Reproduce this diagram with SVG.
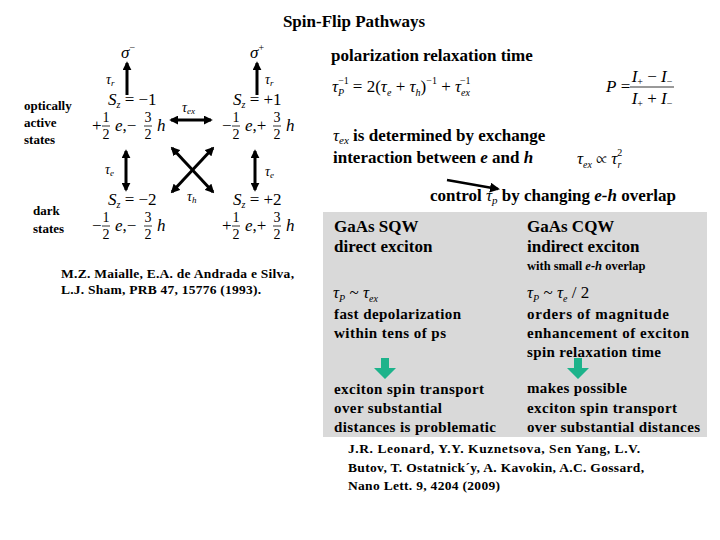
<svg xmlns="http://www.w3.org/2000/svg" width="720" height="540" viewBox="0 0 720 540" font-family="'Liberation Serif', Tinos, 'Times New Roman', Times, 'Nimbus Roman', FreeSerif, 'DejaVu Serif', serif">
<style>
text{font-family:"Liberation Serif",Tinos,"Times New Roman",Times,"Nimbus Roman",FreeSerif,"DejaVu Serif","Noto Serif",serif;fill:#000}
.b{font-weight:bold}
.t{font-size:17px;font-weight:bold}
.lab{font-size:13px;font-weight:bold}
.m{font-size:17px}
.f{font-size:14px}
.i{font-style:italic}
.s{font-size:10px}
.g{font-size:15px;font-weight:bold}
.gb{font-size:17px;font-weight:bold}
.ref{font-size:13.5px;font-weight:bold}
.ar{stroke:#000;stroke-width:3;fill:none}
.bar{stroke:#000;stroke-width:0.8}
.grn{fill:#1db38b}
</style>
<defs>
<marker id="ah" viewBox="0 0 10 10" refX="8" refY="5" markerWidth="9" markerHeight="9" markerUnits="userSpaceOnUse" orient="auto-start-reverse">
<path d="M0,0 L10,5 L0,10 z" fill="#000"/>
</marker>
<marker id="ah2" viewBox="0 0 10 10" refX="8" refY="5" markerWidth="10" markerHeight="10" markerUnits="userSpaceOnUse" orient="auto">
<path d="M0,0 L10,5 L0,10 z" fill="#000"/>
</marker>
</defs>

<text x="354" y="27" text-anchor="middle" class="t">Spin-Flip Pathways</text>

<g id="labels-left">
<text x="24" y="110" class="lab">optically</text>
<text x="24" y="127" class="lab">active</text>
<text x="24" y="144" class="lab">states</text>
<text x="33" y="215" class="lab">dark</text>
<text x="33" y="233" class="lab">states</text>
</g>

<g id="sigma-minus">
<text x="121" y="58" class="m i">σ<tspan class="s" dy="-7" font-style="normal">−</tspan></text>
</g>
<g id="sigma-plus">
<text x="250" y="58" class="m i">σ<tspan class="s" dy="-7" font-style="normal">+</tspan></text>
</g>

<g id="state-m1">
<text x="108" y="105" class="m"><tspan class="i">S</tspan><tspan class="s i" dy="3">z</tspan><tspan dy="-3"> = −1</tspan></text>
<text x="92" y="131" class="m">+</text>
<text x="106" y="122" class="f" text-anchor="middle">1</text>
<line x1="102" y1="126" x2="110" y2="126" class="bar"/>
<text x="106" y="139" class="f" text-anchor="middle">2</text>
<text x="115" y="131" class="m"><tspan class="i">e</tspan>,−</text>
<text x="148" y="122" class="f" text-anchor="middle">3</text>
<line x1="144" y1="126" x2="152" y2="126" class="bar"/>
<text x="148" y="139" class="f" text-anchor="middle">2</text>
<text x="157" y="131" class="m i">h</text>
</g>

<g id="state-p1">
<text x="233" y="105" class="m"><tspan class="i">S</tspan><tspan class="s i" dy="3">z</tspan><tspan dy="-3"> = +1</tspan></text>
<text x="222" y="131" class="m">−</text>
<text x="236" y="122" class="f" text-anchor="middle">1</text>
<line x1="232" y1="126" x2="240" y2="126" class="bar"/>
<text x="236" y="139" class="f" text-anchor="middle">2</text>
<text x="245" y="131" class="m"><tspan class="i">e</tspan>,+</text>
<text x="277" y="122" class="f" text-anchor="middle">3</text>
<line x1="273" y1="126" x2="281" y2="126" class="bar"/>
<text x="277" y="139" class="f" text-anchor="middle">2</text>
<text x="286" y="131" class="m i">h</text>
</g>

<g id="state-m2">
<text x="108" y="205" class="m"><tspan class="i">S</tspan><tspan class="s i" dy="3">z</tspan><tspan dy="-3"> = −2</tspan></text>
<text x="92" y="231" class="m">−</text>
<text x="106" y="222" class="f" text-anchor="middle">1</text>
<line x1="102" y1="226" x2="110" y2="226" class="bar"/>
<text x="106" y="239" class="f" text-anchor="middle">2</text>
<text x="115" y="231" class="m"><tspan class="i">e</tspan>,−</text>
<text x="148" y="222" class="f" text-anchor="middle">3</text>
<line x1="144" y1="226" x2="152" y2="226" class="bar"/>
<text x="148" y="239" class="f" text-anchor="middle">2</text>
<text x="157" y="231" class="m i">h</text>
</g>

<g id="state-p2">
<text x="233" y="205" class="m"><tspan class="i">S</tspan><tspan class="s i" dy="3">z</tspan><tspan dy="-3"> = +2</tspan></text>
<text x="222" y="231" class="m">+</text>
<text x="236" y="222" class="f" text-anchor="middle">1</text>
<line x1="232" y1="226" x2="240" y2="226" class="bar"/>
<text x="236" y="239" class="f" text-anchor="middle">2</text>
<text x="245" y="231" class="m"><tspan class="i">e</tspan>,+</text>
<text x="277" y="222" class="f" text-anchor="middle">3</text>
<line x1="273" y1="226" x2="281" y2="226" class="bar"/>
<text x="277" y="239" class="f" text-anchor="middle">2</text>
<text x="286" y="231" class="m i">h</text>
</g>

<g id="connectors">
<line x1="127" y1="95" x2="127" y2="63" class="ar" marker-end="url(#ah)"/>
<line x1="257" y1="95" x2="257" y2="63" class="ar" marker-end="url(#ah)"/>
<line x1="171" y1="120" x2="211" y2="120" class="ar" marker-start="url(#ah)" marker-end="url(#ah)"/>
<line x1="126" y1="151" x2="126" y2="190" class="ar" marker-start="url(#ah)" marker-end="url(#ah)"/>
<line x1="255" y1="151" x2="255" y2="190" class="ar" marker-start="url(#ah)" marker-end="url(#ah)"/>
<line x1="172" y1="148" x2="213" y2="192" class="ar" marker-start="url(#ah)" marker-end="url(#ah)"/>
<line x1="213" y1="148" x2="172" y2="192" class="ar" marker-start="url(#ah)" marker-end="url(#ah)"/>
<line x1="447" y1="180" x2="498" y2="189" stroke="#000" stroke-width="2.5" marker-end="url(#ah2)"/>
</g>

<g id="conn-labels">
<text x="106" y="84" font-size="14" class="i">τ<tspan font-size="9" dy="2">r</tspan></text>
<text x="265" y="84" font-size="14" class="i">τ<tspan font-size="9" dy="2">r</tspan></text>
<text x="182" y="112" font-size="14" class="i">τ<tspan font-size="9" dy="2">ex</tspan></text>
<text x="105" y="174" font-size="14" class="i">τ<tspan font-size="9" dy="2">e</tspan></text>
<text x="265" y="176" font-size="14" class="i">τ<tspan font-size="9" dy="2">e</tspan></text>
<text x="187" y="201" font-size="14" class="i">τ<tspan font-size="9" dy="2">h</tspan></text>
</g>

<g id="relaxation">
<text x="331" y="61" class="gb">polarization relaxation time</text>
<text x="332" y="92" class="m"><tspan class="i">τ</tspan><tspan class="s i" dy="4">P</tspan><tspan class="s" dx="-6" dy="-12">−1</tspan><tspan dy="8" dx="4">= 2(</tspan><tspan class="i">τ</tspan><tspan class="s i" dy="4">e</tspan><tspan dy="-4"> + </tspan><tspan class="i">τ</tspan><tspan class="s i" dy="4">h</tspan><tspan dy="-4">)</tspan><tspan class="s" dy="-8">−1</tspan><tspan dy="8"> + </tspan><tspan class="i">τ</tspan><tspan class="s i" dy="4">ex</tspan><tspan class="s" dx="-10" dy="-12">−1</tspan></text>
<text x="606" y="92" class="m"><tspan class="i">P</tspan> =</text>
<text x="652" y="82" class="m" text-anchor="middle"><tspan class="i">I</tspan><tspan class="s" dy="3">+</tspan><tspan dy="-3"> − </tspan><tspan class="i">I</tspan><tspan class="s" dy="3">−</tspan></text>
<line x1="630" y1="87" x2="674" y2="87" class="bar"/>
<text x="652" y="104" class="m" text-anchor="middle"><tspan class="i">I</tspan><tspan class="s" dy="3">+</tspan><tspan dy="-3"> + </tspan><tspan class="i">I</tspan><tspan class="s" dy="3">−</tspan></text>
</g>

<g id="exchange">
<text x="333" y="141" class="gb"><tspan class="i" font-weight="normal">τ</tspan><tspan font-size="11" class="i" font-weight="normal" dy="3">ex</tspan><tspan dy="-3"> is determined by exchange</tspan></text>
<text x="333" y="163" class="gb">interaction between <tspan class="i">e</tspan> and <tspan class="i">h</tspan></text>
<text x="577" y="164" class="m"><tspan class="i">τ</tspan><tspan class="s i" dy="4">ex</tspan><tspan dy="-4"> ∝ </tspan><tspan class="i">τ</tspan><tspan class="s i" dy="4">r</tspan><tspan class="s" dx="-4" dy="-12">2</tspan></text>
<text x="430" y="201" class="gb">control <tspan class="i" font-weight="normal">τ</tspan><tspan font-size="11" class="i" font-weight="normal" dy="3">p</tspan><tspan dy="-3"> by changing </tspan><tspan class="i">e-h</tspan> overlap</text>
</g>

<g id="comparison">
<rect x="323" y="212" width="384" height="225" fill="#d9d9d9"/>
<text x="334" y="232" class="gb">GaAs SQW</text>
<text x="334" y="252" class="gb">direct exciton</text>
<text x="527" y="232" class="gb">GaAs CQW</text>
<text x="527" y="252" class="gb">indirect exciton</text>
<text x="527" y="270" font-size="12.5" class="b">with small <tspan class="i">e-h</tspan> overlap</text>
<text x="333" y="298" class="m"><tspan class="i">τ</tspan><tspan class="s i" dy="4">P</tspan><tspan dy="-4"> ~ </tspan><tspan class="i">τ</tspan><tspan class="s i" dy="4">ex</tspan></text>
<text x="527" y="298" class="m"><tspan class="i">τ</tspan><tspan class="s i" dy="4">P</tspan><tspan dy="-4"> ~ </tspan><tspan class="i">τ</tspan><tspan class="s i" dy="4">e</tspan><tspan dy="-4"> / 2</tspan></text>
<text x="334" y="319" class="g" textLength="127">fast depolarization</text>
<text x="334" y="338" class="g" textLength="112">within tens of ps</text>
<text x="527" y="319" class="g" textLength="142">orders of magnitude</text>
<text x="527" y="338" class="g" textLength="162">enhancement of exciton</text>
<text x="527" y="357" class="g" textLength="134">spin relaxation time</text>
<polygon class="grn" points="381,358 389,358 389,368 396,368 385,379 374,368 381,368"/>
<polygon class="grn" points="574,358 582,358 582,368 589,368 578,379 567,368 574,368"/>
<text x="334" y="394" class="g" textLength="150">exciton spin transport</text>
<text x="334" y="413" class="g" textLength="108">over substantial</text>
<text x="334" y="432" class="g" textLength="162">distances is problematic</text>
<text x="527" y="393" class="g" textLength="100">makes possible</text>
<text x="527" y="413" class="g" textLength="150">exciton spin transport</text>
<text x="527" y="432" class="g" textLength="173">over substantial distances</text>
</g>

<g id="refs">
<text x="61" y="278" class="ref" textLength="233">M.Z. Maialle, E.A. de Andrada e Silva,</text>
<text x="61" y="294" class="ref" textLength="200">L.J. Sham, PRB 47, 15776 (1993).</text>
<text x="348" y="453" class="ref" textLength="292">J.R. Leonard, Y.Y. Kuznetsova, Sen Yang, L.V.</text>
<text x="348" y="472" class="ref" textLength="296">Butov, T. Ostatnick´y, A. Kavokin, A.C. Gossard,</text>
<text x="348" y="490" class="ref" textLength="152">Nano Lett. 9, 4204 (2009)</text>
</g>
</svg>
